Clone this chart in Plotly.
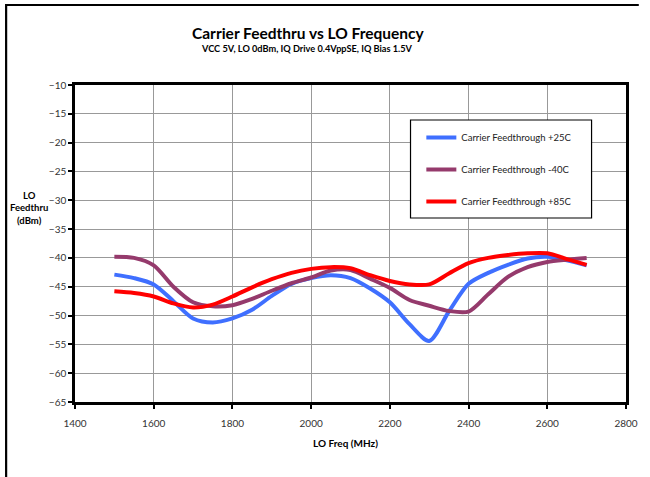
import plotly.graph_objects as go

freq = [1500, 1550, 1600, 1650, 1700, 1750, 1800, 1850, 1900, 1950, 2000, 2050, 2100,
        2150, 2200, 2250, 2300, 2350, 2400, 2450, 2500, 2550, 2600, 2650, 2700]

cf_25 = [-42.9, -43.5, -44.6, -47.5, -50.5, -51.2, -50.5, -49.0, -46.6, -44.5, -43.5, -43.0, -43.5,
         -45.3, -47.7, -51.5, -54.4, -49.3, -44.5, -42.6, -41.2, -40.1, -39.8, -40.4, -41.3]
cf_m40 = [-39.8, -40.0, -41.3, -45.0, -47.7, -48.4, -48.2, -47.1, -45.7, -44.4, -43.4, -42.2, -42.1,
          -43.6, -45.2, -47.3, -48.3, -49.2, -49.3, -46.3, -43.3, -41.6, -40.7, -40.3, -40.0]
cf_85 = [-45.8, -46.1, -46.7, -47.9, -48.6, -48.1, -46.7, -45.1, -43.7, -42.6, -41.9, -41.6, -41.8,
         -43.0, -44.0, -44.6, -44.6, -42.7, -40.9, -40.0, -39.5, -39.2, -39.2, -40.2, -41.2]

series_names = ["Carrier Feedthrough +25C", "Carrier Feedthrough -40C", "Carrier Feedthrough +85C"]
series_vals = [cf_25, cf_m40, cf_85]
colors = ["#3f6fff", "#953a6c", "#ff0000"]

title = "Carrier Feedthru vs LO Frequency"
subtitle = "VCC 5V, LO 0dBm, IQ Drive 0.4VppSE, IQ Bias 1.5V"
x_title = "LO Freq (MHz)"
y_title = "LO<br>Feedthru<br>(dBm)"

W, H = 650, 477
L, R, T, B = 75, 635, 85, 402

fig = go.Figure()
for i, (name, vals, c) in enumerate(zip(series_names, series_vals, colors)):
    fig.add_trace(go.Scatter(x=freq, y=vals, mode="lines", name=name, legendgroup=f"g{i}",
                             line=dict(color=c, width=4, shape="spline", smoothing=0.8)))

font = "Lato, 'Open Sans', sans-serif"

def px(x):
    return (x - L) / (R - L)

def py(y):
    return (B - y) / (B - T)

def ann(text, x, y, size, align="center"):
    return dict(text=text, x=px(x), y=py(y), xref="paper", yref="paper",
                xanchor="center", yanchor="middle", showarrow=False, align=align,
                font=dict(size=size, color="black", family=font))

frame_path = f"M {px(5)},{py(477)} L {px(5)},{py(5)} L {px(648)},{py(5)}"

fig.update_layout(
    width=W, height=H,
    margin=dict(l=L, r=W - R, t=T, b=H - B),
    paper_bgcolor="white", plot_bgcolor="white",
    font=dict(family=font, size=10, color="#333333"),
    showlegend=True,
    legend=dict(x=px(427), y=py(123), xanchor="left", yanchor="top",
                bgcolor="rgba(0,0,0,0)", borderwidth=0,
                font=dict(family=font, size=9.5, color="#222222"),
                tracegroupgap=13, itemwidth=30),
    xaxis=dict(range=[1400, 2800], dtick=200, tick0=1400,
               showgrid=True, gridcolor="#999999", gridwidth=1,
               showline=True, linecolor="black", linewidth=2.5, mirror=True,
               ticks="outside", ticklen=4, tickcolor="black", tickwidth=1.5,
               ticklabelstandoff=6,
               zeroline=False, tickfont=dict(size=10)),
    yaxis=dict(range=[-65, -10], dtick=5, tick0=-65,
               showgrid=True, gridcolor="#999999", gridwidth=1,
               showline=True, linecolor="black", linewidth=2.5, mirror=True,
               ticks="outside", ticklen=4, tickcolor="black", tickwidth=1.5,
               zeroline=False, tickfont=dict(size=10)),
    annotations=[
        ann("<b>" + title + "</b>", 312, 33, 15.5),
        ann("<b>" + subtitle + "</b>", 311, 48, 9.2),
        ann("<b>" + x_title + "</b>", 350, 443, 10),
        ann("<b>" + y_title + "</b>", 28, 208, 9.5),
    ],
    shapes=[
        dict(type="path", xref="paper", yref="paper", path=frame_path,
             line=dict(color="black", width=2.2), layer="above"),
        dict(type="rect", xref="paper", yref="paper", x0=px(416), x1=px(600), y0=py(120), y1=py(218),
             line=dict(color="black", width=1.2), fillcolor="white", layer="above"),
    ],
)

fig.write_html("out.html", config={"displayModeBar": False},
               post_script="document.body.style.margin='0';document.body.style.overflow='hidden';")
